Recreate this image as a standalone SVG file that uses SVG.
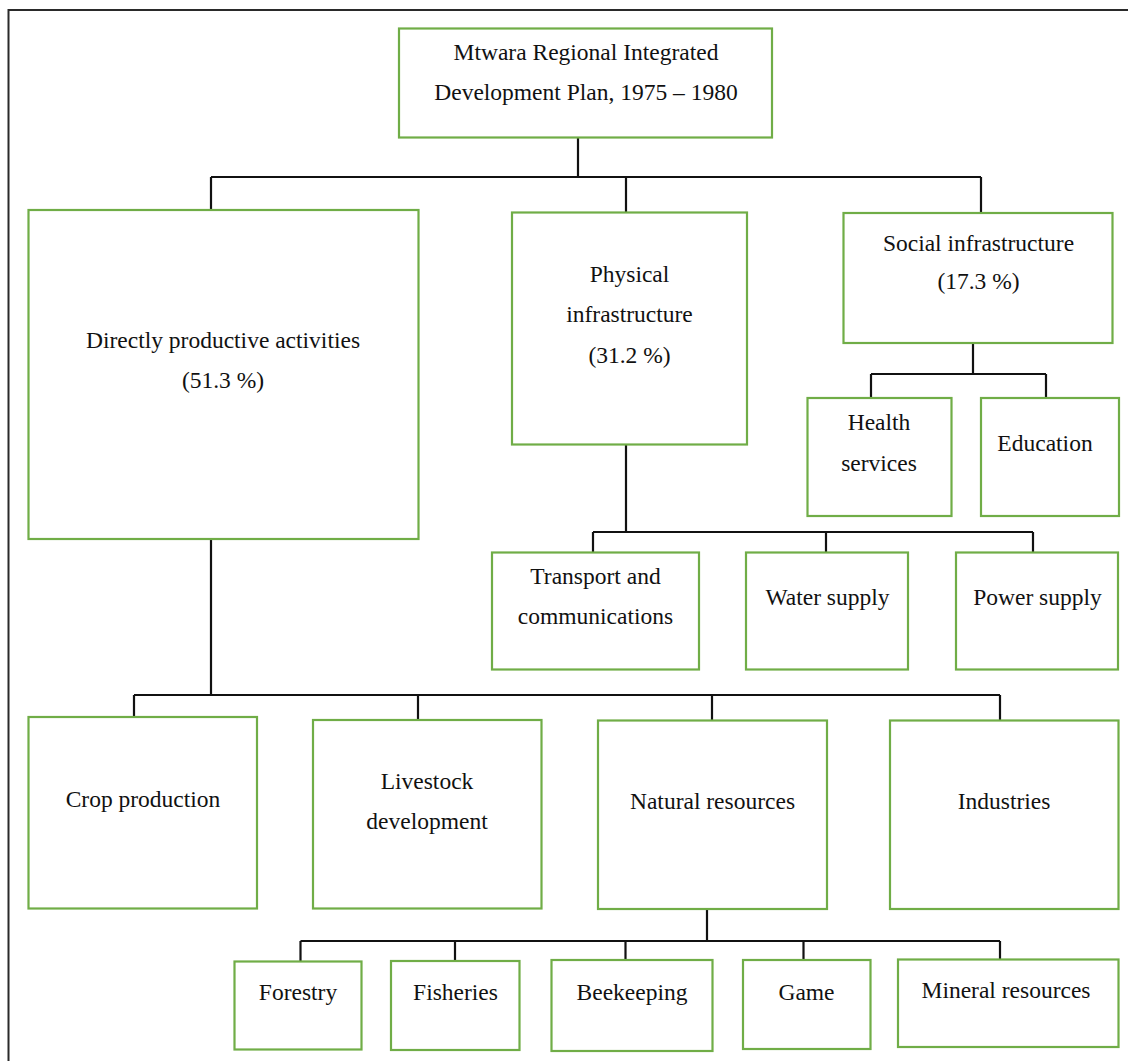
<svg xmlns="http://www.w3.org/2000/svg" width="1128" height="1061" viewBox="0 0 1128 1061">
<style>
.box{fill:#fff;stroke:#70ad47;stroke-width:2.2}
.lbl{font-family:"Liberation Serif","Times New Roman",serif;font-size:23.5px;fill:#111;text-anchor:middle}
.con{fill:none;stroke:#111;stroke-width:2.2}
</style>
<rect x="0" y="0" width="1128" height="1061" fill="#fff"/>
<rect x="8.5" y="10" width="1130" height="1060" fill="none" stroke="#2a2a2a" stroke-width="2"/>
<g id="connectors" class="con">
<path d="M578 138V177M211 177H981M211 177V210M626 177V212M981 177V213"/>
<path d="M626 444V532M593 532H1033M593 532V552M826 532V552M1033 532V552"/>
<path d="M973 343V374M871 374H1046M871 374V398M1046 374V398"/>
<path d="M211 539V695M134 695H1000M134 695V717M418 695V720M712 695V720M1000 695V720"/>
<path d="M707 909V941M300.5 941H1000M300.5 941V961M455 941V961M625.5 941V960M803.5 941V960M1000 941V960"/>
</g>
<g id="n-plan"><rect class="box" x="399" y="28.5" width="373" height="109"/><text class="lbl" x="586" y="59.5">Mtwara Regional Integrated</text><text class="lbl" x="586" y="100">Development Plan, 1975 – 1980</text></g>
<g id="n-direct"><rect class="box" x="28.5" y="210" width="390" height="329"/><text class="lbl" x="223" y="348">Directly productive activities</text><text class="lbl" x="223" y="388">(51.3 %)</text></g>
<g id="n-physical"><rect class="box" x="512" y="212.5" width="235" height="232"/><text class="lbl" x="629.5" y="282">Physical</text><text class="lbl" x="629.5" y="322">infrastructure</text><text class="lbl" x="629.5" y="362.5">(31.2 %)</text></g>
<g id="n-social"><rect class="box" x="843.5" y="213" width="269" height="130"/><text class="lbl" x="978.5" y="250.5">Social infrastructure</text><text class="lbl" x="978.5" y="289">(17.3 %)</text></g>
<g id="n-health"><rect class="box" x="807.5" y="398" width="144" height="118"/><text class="lbl" x="879" y="430">Health</text><text class="lbl" x="879" y="471">services</text></g>
<g id="n-education"><rect class="box" x="981" y="398" width="138" height="118"/><text class="lbl" x="1045" y="450.5">Education</text></g>
<g id="n-transport"><rect class="box" x="492" y="552.5" width="207" height="117"/><text class="lbl" x="595.5" y="583.5">Transport and</text><text class="lbl" x="595.5" y="624">communications</text></g>
<g id="n-water"><rect class="box" x="746" y="552.5" width="162" height="117"/><text class="lbl" x="827.5" y="605">Water supply</text></g>
<g id="n-power"><rect class="box" x="956" y="552.5" width="162" height="117"/><text class="lbl" x="1037.5" y="605">Power supply</text></g>
<g id="n-crop"><rect class="box" x="28.5" y="717" width="228.5" height="191.5"/><text class="lbl" x="143" y="807">Crop production</text></g>
<g id="n-livestock"><rect class="box" x="313" y="720" width="228.5" height="188.5"/><text class="lbl" x="427" y="788.5">Livestock</text><text class="lbl" x="427" y="828.5">development</text></g>
<g id="n-natural"><rect class="box" x="598" y="720.5" width="229" height="188.5"/><text class="lbl" x="712.5" y="808.5">Natural resources</text></g>
<g id="n-industries"><rect class="box" x="890" y="720.5" width="228.5" height="188.5"/><text class="lbl" x="1004" y="808.5">Industries</text></g>
<g id="n-forestry"><rect class="box" x="234.5" y="961.5" width="127" height="88"/><text class="lbl" x="298" y="1000">Forestry</text></g>
<g id="n-fisheries"><rect class="box" x="391" y="961" width="128.5" height="89"/><text class="lbl" x="455.5" y="1000">Fisheries</text></g>
<g id="n-beekeeping"><rect class="box" x="551.5" y="960" width="161" height="91"/><text class="lbl" x="632" y="1000">Beekeeping</text></g>
<g id="n-game"><rect class="box" x="743" y="960" width="127.5" height="89"/><text class="lbl" x="806.5" y="1000">Game</text></g>
<g id="n-mineral"><rect class="box" x="898" y="959.5" width="220.5" height="87.5"/><text class="lbl" x="1006" y="998">Mineral resources</text></g>
</svg>
